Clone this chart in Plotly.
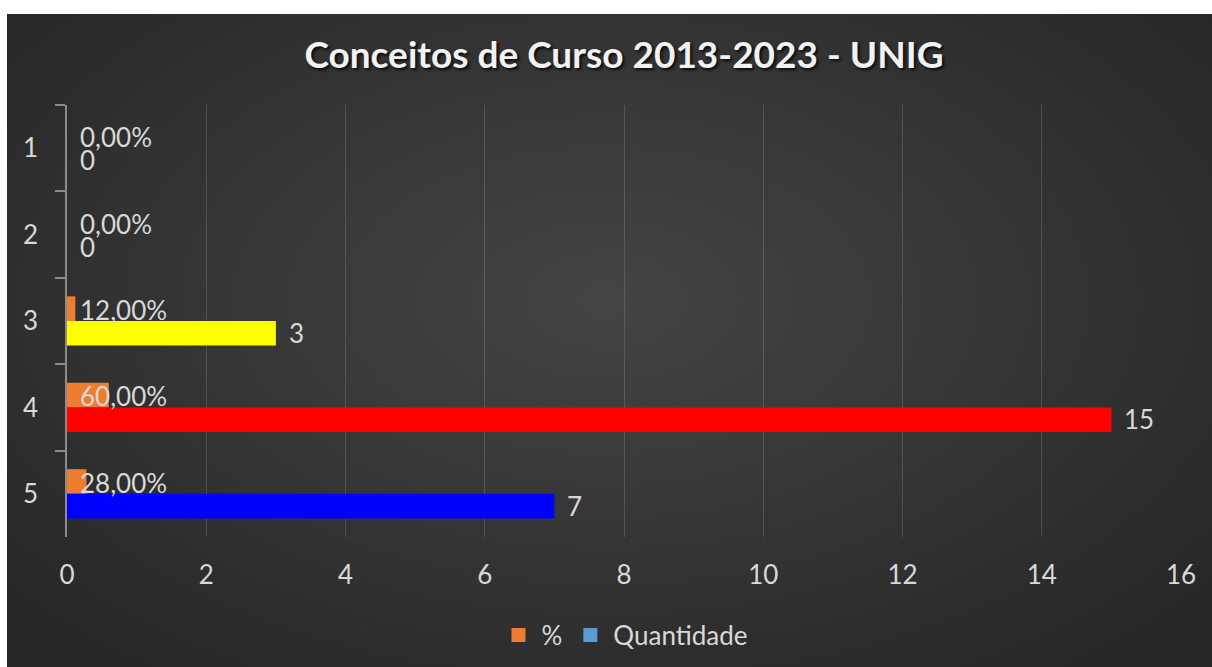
import plotly.graph_objects as go

categories = ["1", "2", "3", "4", "5"]
pct_values = [0.0, 0.0, 0.12, 0.60, 0.28]
pct_labels = ["0,00%", "0,00%", "12,00%", "60,00%", "28,00%"]
qty_values = [0, 0, 3, 15, 7]
qty_colors = ["#5b9bd5", "#5b9bd5", "#ffff00", "#ff0000", "#0000ff"]
x_ticks = [0, 2, 4, 6, 8, 10, 12, 14, 16]

W, H = 1212, 667
L, T = 67, 105
R = W - 1181
B = H - 537
PW, PH = W - L - R, H - T - B

def px_x(px):  # px in viewport pixels
    return (px - L) / PW

def px_y(py):
    return (H - B - py) / PH

FONT = "Lato"
TXT = "#d9d9d9"
FS = 26

fig = go.Figure()

fig.add_trace(go.Bar(
    y=categories, x=pct_values, orientation="h", name="%",
    marker=dict(color="#ed7d31", line=dict(width=0)), showlegend=False,
    hoverinfo="x+y",
))
fig.add_trace(go.Bar(
    y=categories, x=qty_values, orientation="h", name="Quantidade",
    marker=dict(color=qty_colors, line=dict(width=0)), showlegend=False,
    hoverinfo="x+y",
))
# legend-only entries (no drawn points)
fig.add_trace(go.Scatter(x=[None], y=[categories[0]], mode="markers", name="%",
                         marker=dict(symbol="square", size=14, color="#ed7d31")))
fig.add_trace(go.Scatter(x=[None], y=[categories[0]], mode="markers", name="Quantidade",
                         marker=dict(symbol="square", size=14, color="#5b9bd5")))

annotations = []
for i, lab in enumerate(pct_labels):
    annotations.append(dict(x=0, y=i, text=lab, showarrow=False, xanchor="left",
                            yanchor="middle", xshift=11, yshift=11,
                            font=dict(family=FONT, size=FS, color=TXT)))
for i, v in enumerate(qty_values):
    annotations.append(dict(x=v, y=i, text=str(v), showarrow=False, xanchor="left",
                            yanchor="middle", xshift=11, yshift=-12,
                            font=dict(family=FONT, size=FS, color=TXT)))

shapes = []
cx, cy = 606, 300
n = 30
for i in range(n):
    f = 1 - i / n
    rx = 800 * f
    ry = 470 * f
    shapes.append(dict(type="circle", xref="paper", yref="paper",
                       x0=px_x(cx - rx), x1=px_x(cx + rx),
                       y0=px_y(cy + ry), y1=px_y(cy - ry),
                       fillcolor="#ffffff", opacity=0.0088, line=dict(width=0),
                       layer="below"))
# white page strips at top and left
shapes.append(dict(type="rect", xref="paper", yref="paper",
                   x0=px_x(-5), x1=px_x(W + 5), y0=px_y(14), y1=px_y(-5),
                   fillcolor="#ffffff", line=dict(width=0), layer="below"))
shapes.append(dict(type="rect", xref="paper", yref="paper",
                   x0=px_x(-5), x1=px_x(7), y0=px_y(H + 5), y1=px_y(-5),
                   fillcolor="#ffffff", line=dict(width=0), layer="below"))

fig.update_layout(
    width=W, height=H,
    margin=dict(l=L, r=R, t=T, b=B, autoexpand=False),
    paper_bgcolor="#262626",
    plot_bgcolor="rgba(0,0,0,0)",
    barmode="group",
    bargap=0.43,
    bargroupgap=0,
    title=dict(text="<b>Conceitos de Curso 2013-2023 - UNIG</b>", x=0.5, xref="paper",
               xanchor="center", y=1 - 55 / H, yanchor="middle",
               font=dict(family=FONT, size=37, color="#f2f2f2",
                         shadow="2px 2px 3px rgba(0,0,0,0.8)")),
    xaxis=dict(range=[0, 16], tickvals=x_ticks, showgrid=True,
               gridcolor="rgba(255,255,255,0.14)",
               gridwidth=1, zeroline=False, showline=False, ticks="",
               ticklabelstandoff=20, automargin=False,
               tickfont=dict(family=FONT, size=FS, color=TXT), fixedrange=True),
    yaxis=dict(autorange="reversed", type="category", categoryorder="array",
               categoryarray=categories, showline=True, linecolor="#8c8c8c",
               linewidth=1.5, ticks="outside", tickson="boundaries", ticklen=10,
               tickcolor="#8c8c8c", tickwidth=1.5, showgrid=False, ticklabelstandoff=22,
               automargin=False,
               tickfont=dict(family=FONT, size=FS, color=TXT), fixedrange=True),
    legend=dict(orientation="h", x=0.5, xanchor="center", y=px_y(635), yanchor="middle",
                font=dict(family=FONT, size=FS, color=TXT), bgcolor="rgba(0,0,0,0)",
                itemsizing="trace", tracegroupgap=0, itemwidth=36),
    annotations=annotations,
    shapes=shapes,
    showlegend=True,
)

fig.write_html("out.html",
               config={"displayModeBar": False},
               post_script="document.body.style.margin='0';"
                           "document.documentElement.style.overflow='hidden';")
